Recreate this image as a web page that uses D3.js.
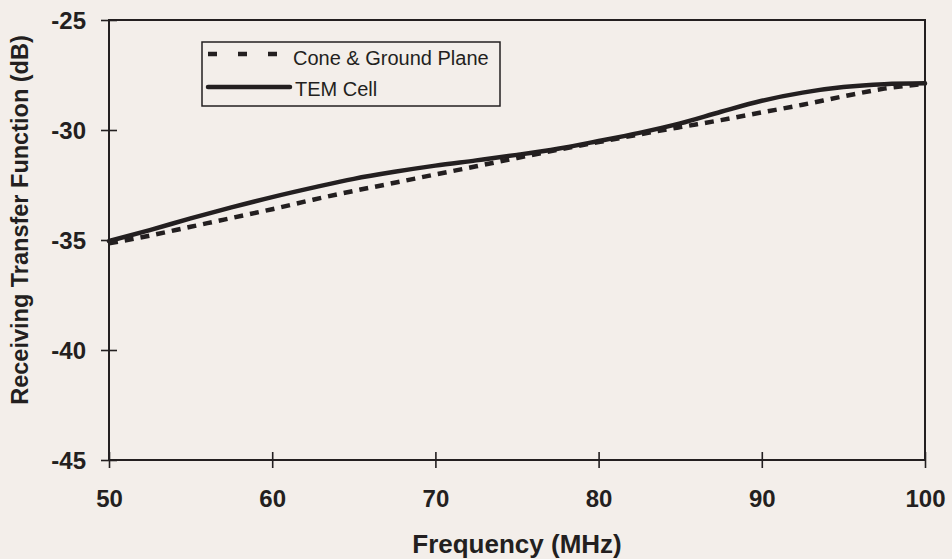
<!DOCTYPE html>
<html>
<head>
<meta charset="utf-8">
<script src="https://cdn.jsdelivr.net/npm/d3@7/dist/d3.min.js"></script>
<style>
  html, body { margin: 0; padding: 0; background: #f3eeea; }
  svg { display: block; }
</style>
</head>
<body>
<svg id="chart" width="952" height="559"></svg>
<script>
const frequency = [50, 52.5, 55, 57.5, 60, 62.5, 65, 67.5, 70, 72.5, 75, 77.5, 80, 82.5, 85, 87.5, 90, 92.5, 95, 97.5, 100];
const temCell = [-35.05, -34.55, -34.02, -33.52, -33.05, -32.62, -32.22, -31.9, -31.62, -31.38, -31.13, -30.85, -30.5, -30.13, -29.7, -29.17, -28.67, -28.3, -28.05, -27.92, -27.88];
const coneGround = [-35.15, -34.8, -34.4, -34.0, -33.6, -33.17, -32.77, -32.4, -32.02, -31.65, -31.27, -30.9, -30.55, -30.2, -29.87, -29.55, -29.2, -28.85, -28.47, -28.12, -27.9];
const xTicks = [50, 60, 70, 80, 90, 100];
const yTicks = [-25, -30, -35, -40, -45];
const seriesNames = ["Cone & Ground Plane", "TEM Cell"];
const xTitle = "Frequency (MHz)";
const yTitle = "Receiving Transfer Function (dB)";

const svg = d3.select("#chart");
const ink = "#231f20";
const m = { left: 109, right: 925, top: 20, bottom: 460 };

const x = d3.scaleLinear().domain([50, 100]).range([m.left, m.right]);
const y = d3.scaleLinear().domain([-45, -25]).range([m.bottom, m.top]);

const fontFam = "'Liberation Sans', Arial, Helvetica, sans-serif";
const fmt = d => String(d);

// frame
svg.append("rect")
  .attr("x", m.left).attr("y", m.top)
  .attr("width", m.right - m.left).attr("height", m.bottom - m.top)
  .attr("fill", "none").attr("stroke", ink).attr("stroke-width", 2);

// x axis (ticks crossing the axis)
const xAxis = svg.append("g").attr("transform", `translate(0,${m.bottom})`)
  .call(d3.axisBottom(x).tickValues(xTicks).tickSize(8).tickFormat(fmt));
xAxis.select(".domain").remove();
xAxis.selectAll(".tick line").attr("y1", -8).attr("y2", 8).attr("stroke", ink).attr("stroke-width", 1.6);
xAxis.selectAll(".tick text")
  .attr("font-family", fontFam).attr("font-size", 24).attr("font-weight", "bold").attr("fill", ink)
  .attr("dy", null).attr("y", 47);

// y axis
const yAxis = svg.append("g").attr("transform", `translate(${m.left},0)`)
  .call(d3.axisLeft(y).tickValues(yTicks).tickSize(8).tickFormat(fmt));
yAxis.select(".domain").remove();
yAxis.selectAll(".tick line").attr("x1", -8).attr("x2", 8).attr("stroke", ink).attr("stroke-width", 1.6);
yAxis.selectAll(".tick text")
  .attr("font-family", fontFam).attr("font-size", 24).attr("font-weight", "bold").attr("fill", ink)
  .attr("x", -23).attr("dy", "0.36em");

// axis titles
svg.append("text")
  .attr("x", (m.left + m.right) / 2).attr("y", 553)
  .attr("text-anchor", "middle")
  .attr("font-family", fontFam).attr("font-weight", "bold").attr("font-size", 26)
  .attr("fill", ink).text(xTitle);

svg.append("text")
  .attr("transform", `translate(28,220) rotate(-90)`)
  .attr("text-anchor", "middle")
  .attr("font-family", fontFam).attr("font-weight", "bold").attr("font-size", 23.5)
  .attr("fill", ink).text(yTitle);

// lines
const line = d3.line().x((d, i) => x(frequency[i])).y(d => y(d)).curve(d3.curveMonotoneX);

svg.append("path").datum(temCell)
  .attr("d", line).attr("fill", "none")
  .attr("stroke", ink).attr("stroke-width", 4.5).attr("stroke-linecap", "round");

svg.append("path").datum(coneGround)
  .attr("d", line).attr("fill", "none")
  .attr("stroke", ink).attr("stroke-width", 4.5).attr("stroke-dasharray", "9,7");

// legend
const lg = svg.append("g");
lg.append("rect").attr("x", 202).attr("y", 42).attr("width", 298).attr("height", 64)
  .attr("fill", "#f3eeea").attr("stroke", ink).attr("stroke-width", 1.5);
lg.append("line").attr("x1", 208).attr("x2", 277).attr("y1", 54).attr("y2", 54)
  .attr("stroke", ink).attr("stroke-width", 4.5).attr("stroke-dasharray", "9,21");
lg.append("line").attr("x1", 208).attr("x2", 290).attr("y1", 87).attr("y2", 87)
  .attr("stroke", ink).attr("stroke-width", 4.5).attr("stroke-linecap", "round");
lg.append("text").attr("x", 293).attr("y", 65)
  .attr("font-family", fontFam).attr("font-size", 20).attr("fill", ink).text(seriesNames[0]);
lg.append("text").attr("x", 295).attr("y", 96)
  .attr("font-family", fontFam).attr("font-size", 20).attr("fill", ink).text(seriesNames[1]);
</script>
</body>
</html>
